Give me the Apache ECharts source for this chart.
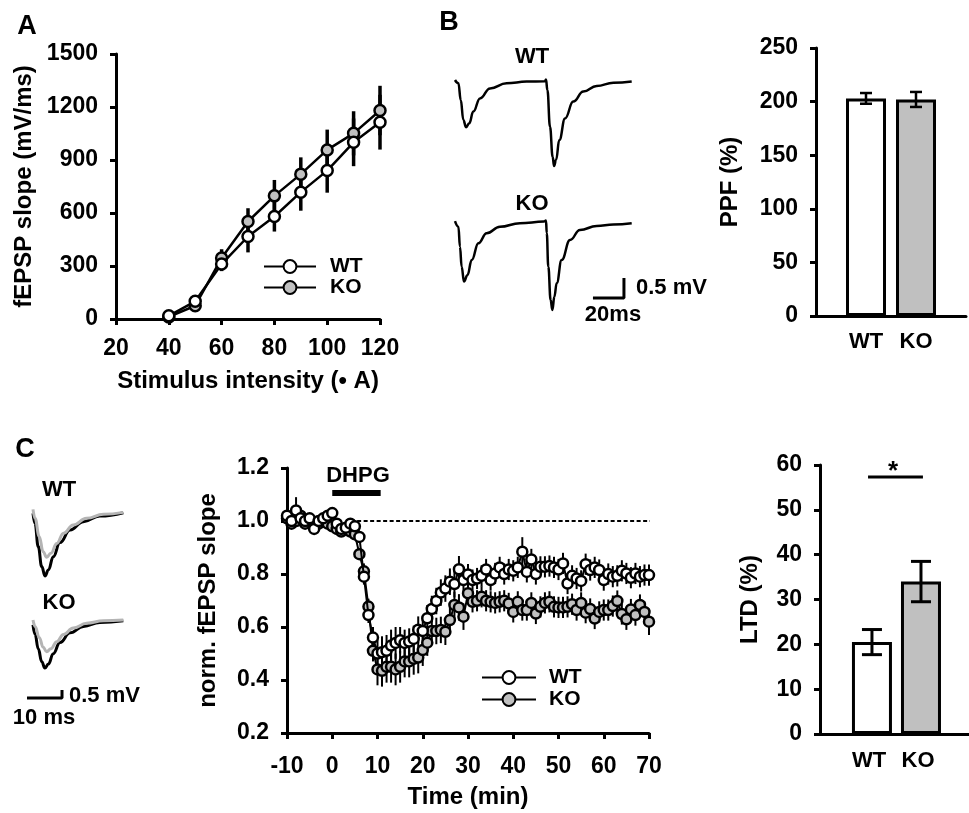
<!DOCTYPE html>
<html>
<head>
<meta charset="utf-8">
<script src="https://cdn.jsdelivr.net/npm/echarts@6/dist/echarts.min.js"></script>
<style>html,body{margin:0;padding:0;background:#fff;}#c{width:969px;height:813px;}</style>
</head>
<body>
<div id="c"></div>
<script>
// ---------- Panel A: input/output ----------
const stimIntensity = [40, 50, 60, 70, 80, 90, 100, 110, 120];
const ioWT    = [18, 100, 311, 467, 580, 718, 840, 1000, 1114];
const ioKO    = [12, 75, 345, 552, 697, 820, 957, 1051, 1180];
const ioWTerr = [5, 15, 40, 90, 85, 105, 125, 135, 155];
const ioKOerr = [5, 20, 50, 75, 90, 95, 115, 125, 140];

// ---------- Panel B: PPF ----------
const groups = ['WT', 'KO'];
const ppfMean = [203, 202];
const ppfErr = [5, 7];
// sample traces [ms, mV] relative to baseline
const ppfTraceWT = [[0,0.05],[2.2,-0.03],[3.7,-0.45],[5.4,-0.95],[7.1,-1.13],[9.2,-1.03],[11.8,-0.74],[16.1,-0.41],[22.6,-0.16],[33.3,-0.03],[46.2,0.01],[58,0.02],[58.7,0.06],[59.6,-0.2],[61.3,-1.12],[63,-1.87],[63.9,-2.1],[65.2,-1.95],[67.3,-1.45],[71,-0.91],[76.3,-0.49],[82.8,-0.24],[91.4,-0.1],[102.2,-0.02],[114,0.01]];
const ppfTraceKO = [[0,0.02],[2.2,-0.12],[3.2,-0.62],[4.3,-1.12],[5.8,-1.49],[8,-1.33],[10.8,-0.95],[15.1,-0.53],[20.4,-0.28],[29,-0.12],[41.9,-0.03],[57.4,0.01],[58.7,0.04],[59.2,-0.28],[60.2,-1.12],[61.7,-1.95],[62.8,-2.2],[64.1,-1.87],[65.6,-1.53],[68.8,-0.95],[74.2,-0.45],[80.6,-0.2],[91.4,-0.1],[102.2,-0.06],[114,-0.03]];
const ppfScaleMs = 20, ppfScaleMv = 0.5;

// ---------- Panel C: DHPG-LTD ----------
const timeMin = [-10,-9,-8,-7,-6,-5,-4,-3,-2,-1,0,1,2,3,4,5,6,7,8,9,10,11,12,13,14,15,16,17,18,19,20,21,22,23,24,25,26,27,28,29,30,31,32,33,34,35,36,37,38,39,40,41,42,43,44,45,46,47,48,49,50,51,52,53,54,55,56,57,58,59,60,61,62,63,64,65,66,67,68,69,70];
const ltdWT = [1.02,1.00,1.04,1.01,1.00,1.01,0.97,1.00,1.01,1.02,1.03,0.99,0.97,0.975,0.99,0.98,0.94,0.79,0.645,0.56,0.50,0.505,0.51,0.53,0.54,0.55,0.54,0.545,0.555,0.59,0.585,0.633,0.668,0.698,0.73,0.745,0.771,0.762,0.818,0.777,0.798,0.777,0.783,0.793,0.817,0.777,0.802,0.825,0.800,0.817,0.812,0.825,0.884,0.808,0.855,0.800,0.827,0.827,0.830,0.825,0.817,0.840,0.764,0.793,0.783,0.774,0.837,0.815,0.825,0.815,0.777,0.800,0.790,0.793,0.812,0.802,0.786,0.802,0.790,0.796,0.796];
const ltdKO = [1.01,0.99,1.00,1.02,0.99,1.00,0.99,0.99,1.00,0.99,0.98,0.97,0.96,0.97,0.96,0.95,0.875,0.81,0.677,0.51,0.44,0.435,0.45,0.45,0.44,0.45,0.47,0.47,0.48,0.485,0.513,0.541,0.585,0.585,0.589,0.582,0.626,0.683,0.674,0.639,0.727,0.695,0.699,0.714,0.699,0.695,0.691,0.695,0.699,0.689,0.657,0.695,0.664,0.664,0.691,0.651,0.676,0.691,0.695,0.676,0.674,0.674,0.676,0.686,0.664,0.691,0.654,0.668,0.632,0.657,0.664,0.664,0.679,0.698,0.649,0.629,0.666,0.645,0.683,0.657,0.620];
const ltdWTerr = [0.03,0.02,0.05,0.03,0.02,0.02,0.02,0.02,0.02,0.02,0.02,0.02,0.02,0.02,0.02,0.02,0.02,0.03,0.03,0.04,0.05,0.06,0.06,0.06,0.06,0.05,0.05,0.05,0.05,0.05,0.05,0.05,0.05,0.05,0.05,0.05,0.05,0.05,0.05,0.05,0.04,0.04,0.04,0.04,0.04,0.04,0.04,0.04,0.04,0.04,0.04,0.04,0.055,0.04,0.04,0.04,0.04,0.04,0.04,0.04,0.04,0.04,0.04,0.04,0.04,0.04,0.04,0.04,0.04,0.04,0.04,0.04,0.04,0.04,0.04,0.04,0.04,0.04,0.04,0.04,0.04];
const ltdKOerr = [0.02,0.02,0.02,0.02,0.02,0.02,0.02,0.02,0.02,0.02,0.02,0.02,0.02,0.02,0.02,0.02,0.02,0.03,0.03,0.04,0.06,0.06,0.06,0.06,0.06,0.06,0.06,0.06,0.06,0.06,0.06,0.05,0.05,0.05,0.05,0.05,0.05,0.05,0.05,0.05,0.04,0.04,0.04,0.04,0.04,0.04,0.04,0.04,0.04,0.04,0.04,0.04,0.04,0.04,0.04,0.04,0.04,0.04,0.04,0.04,0.04,0.04,0.04,0.04,0.04,0.04,0.04,0.04,0.04,0.04,0.04,0.04,0.04,0.04,0.04,0.04,0.04,0.04,0.04,0.04,0.05];
const dhpgWindow = [0, 10.7];
const ltdMean = [20.5, 34];
const ltdErr = [2.8, 4.5];
// sample traces [ms, mV] relative to baseline: pre (black) and post (grey)
const ltdTraceWTpre  = [[0,-0.02],[0.57,-0.65],[1.5,-2.1],[2.5,-3.35],[3.43,-3.94],[4.4,-3.56],[5.8,-2.73],[7.7,-1.85],[10.6,-1.06],[14.4,-0.54],[19.1,-0.19],[25.8,0.02]];
const ltdTraceWTpost = [[0,0.23],[0.57,-0.33],[1.8,-1.48],[2.9,-2.42],[3.9,-2.77],[5.1,-2.52],[6.8,-1.9],[8.7,-1.27],[11.5,-0.75],[15.3,-0.33],[20.1,-0.08],[25.8,0.04]];
const ltdTraceKOpre  = [[0,-0.3],[0.6,-0.9],[1.5,-1.8],[2.5,-2.6],[3.4,-3.0],[4.4,-2.75],[5.8,-2.1],[7.7,-1.4],[10.6,-0.8],[14.4,-0.4],[19.1,-0.15],[25.8,-0.05]];
const ltdTraceKOpost = [[0,0],[0.6,-0.4],[1.8,-1.1],[2.9,-1.7],[3.9,-1.98],[5.1,-1.8],[6.8,-1.35],[8.7,-0.9],[11.5,-0.5],[15.3,-0.2],[20.1,-0.05],[25.8,0]];
const ltdScaleMs = 10, ltdScaleMv = 0.5;

// ---------- layout / style ----------
const FONT = 'Liberation Sans, Arial, sans-serif';
const GREY = '#c0c0c0';
const txtOf = fs => ({fontFamily: FONT, fontWeight: 'bold', fontSize: fs, color: '#000'});
const tick = txtOf(23), nameTxt = txtOf(24), lbl = txtOf(22), legTxt = txtOf(21);

function errItem(capHalf, lw) {
  return function (params, api) {
    const x = api.value(0), y = api.value(1), e = api.value(2);
    const t = api.coord([x, y + e]), b = api.coord([x, y - e]);
    const st = {stroke: '#000', lineWidth: lw};
    const ch = [{type: 'line', shape: {x1: t[0], y1: t[1], x2: b[0], y2: b[1]}, style: st}];
    if (capHalf > 0) {
      ch.push({type: 'line', shape: {x1: t[0] - capHalf, y1: t[1], x2: t[0] + capHalf, y2: t[1]}, style: st});
      ch.push({type: 'line', shape: {x1: b[0] - capHalf, y1: b[1], x2: b[0] + capHalf, y2: b[1]}, style: st});
    }
    return {type: 'group', children: ch};
  };
}

function valAxis(o) {
  return Object.assign({
    type: 'value',
    axisLine: {show: true, onZero: false, lineStyle: {color: '#000', width: 3}},
    axisTick: {show: true, inside: false, length: 6, lineStyle: {color: '#000', width: 3}},
    axisLabel: Object.assign({margin: 18, formatter: v => String(v)}, tick),
    splitLine: {show: false},
    nameTextStyle: nameTxt
  }, o);
}
function hiddenAxis(o) {
  return Object.assign({type: 'value', show: false, splitLine: {show: false}}, o);
}

const zip = (xs, ys) => xs.map((x, i) => [x, ys[i]]);
const zip3 = (xs, ys, es) => xs.map((x, i) => [x, ys[i], es[i]]);
const offsetTrace = (tr, off) => tr.map(p => [p[0], p[1] + off]);

const KO_OFF_B = -3.5;     // vertical stacking offset of KO trace (mV)
const KO_OFF_C = -6.69;
const sbB = [89, -5.4];    // scale bar origin
const sbC = [-1.71, -11.56];

const symWT = {color: '#fff', borderColor: '#000', borderWidth: 2.5};
const symKO = {color: GREY, borderColor: '#000', borderWidth: 2.5};
const traceSmooth = {showSymbol: false, smooth: 0.45, smoothMonotone: 'x', silent: true};

function txtG(x, y, text, fs, align) {
  return {type: 'text', x: x, y: y, style: {text: text, font: 'bold ' + fs + 'px ' + FONT, fill: '#000',
    textAlign: align || 'center', textVerticalAlign: 'middle'}};
}

const option = {
  animation: false,
  backgroundColor: '#fff',
  textStyle: {fontFamily: FONT},
  grid: [
    {left: 116, top: 54, width: 264, height: 265, outerBoundsMode: 'none'},  // 0 A
    {left: 455, top: 42, width: 186, height: 280, outerBoundsMode: 'none'},  // 1 B traces
    {left: 816, top: 48, width: 150, height: 268, outerBoundsMode: 'none'},  // 2 B bars
    {left: 26, top: 497, width: 126, height: 224, outerBoundsMode: 'none'},  // 3 C traces
    {left: 287, top: 468, width: 362, height: 265, outerBoundsMode: 'none'}, // 4 C time
    {left: 820, top: 465, width: 150, height: 269, outerBoundsMode: 'none'}  // 5 C bars
  ],
  xAxis: [
    valAxis({gridIndex: 0, min: 20, max: 120, interval: 20,
      name: 'Stimulus intensity (\u2022 A)', nameLocation: 'middle', nameGap: 50}),
    hiddenAxis({gridIndex: 1, min: 0, max: 120}),
    valAxis({gridIndex: 2, min: 0, max: 3, interval: 1, axisTick: {show: false},
      axisLabel: Object.assign({margin: 15, formatter: v => groups[v - 1] || ''}, lbl)}),
    hiddenAxis({gridIndex: 3, min: -2, max: 34}),
    valAxis({gridIndex: 4, min: -10, max: 70, interval: 10,
      axisLabel: Object.assign({margin: 22, formatter: v => String(v)}, tick),
      name: 'Time (min)', nameLocation: 'middle', nameGap: 52}),
    valAxis({gridIndex: 5, min: -0.06, max: 3, interval: 1, axisTick: {show: false},
      axisLabel: Object.assign({margin: 16, formatter: v => groups[Math.round(v) - 1] || ''}, lbl)})
  ],
  yAxis: [
    valAxis({gridIndex: 0, min: 0, max: 1500, interval: 300,
      name: 'fEPSP slope (mV/ms)', nameLocation: 'middle', nameGap: 80, nameRotate: 90}),
    hiddenAxis({gridIndex: 1, min: -6, max: 1}),
    valAxis({gridIndex: 2, min: 0, max: 250, interval: 50,
      name: 'PPF (%)', nameLocation: 'middle', nameGap: 74, nameRotate: 90}),
    hiddenAxis({gridIndex: 3, min: -13, max: 1}),
    valAxis({gridIndex: 4, min: 0.2, max: 1.2, interval: 0.2,
      axisLabel: Object.assign({margin: 18, formatter: v => v.toFixed(1)}, tick),
      name: 'norm. fEPSP slope', nameLocation: 'middle', nameGap: 67, nameRotate: 90}),
    valAxis({gridIndex: 5, min: 0, max: 60, interval: 10,
      name: 'LTD (%)', nameLocation: 'middle', nameGap: 58, nameRotate: 90})
  ],
  legend: [
    {left: 258, top: 251, orient: 'vertical', data: ['WT', 'KO'], selectedMode: false,
      itemWidth: 52, itemHeight: 16, itemGap: 0,
      textStyle: Object.assign({padding: [0, 0, 0, 9]}, legTxt)},
    {left: 476, top: 662, orient: 'vertical', data: ['WT', 'KO'], selectedMode: false,
      itemWidth: 54, itemHeight: 16, itemGap: 1,
      textStyle: Object.assign({padding: [0, 0, 0, 8]}, legTxt)}
  ],
  series: [
    // ---- A
    {type: 'custom', xAxisIndex: 0, yAxisIndex: 0, renderItem: errItem(0, 3.5), z: 1,
      data: zip3(stimIntensity, ioKO, ioKOerr), encode: {x: 0, y: 1}},
    {type: 'custom', xAxisIndex: 0, yAxisIndex: 0, renderItem: errItem(0, 3.5), z: 1,
      data: zip3(stimIntensity, ioWT, ioWTerr), encode: {x: 0, y: 1}},
    {name: 'KO', type: 'line', xAxisIndex: 0, yAxisIndex: 0, data: zip(stimIntensity, ioKO), z: 3,
      symbol: 'circle', symbolSize: 11, lineStyle: {color: '#000', width: 2.5}, itemStyle: symKO},
    {name: 'WT', type: 'line', xAxisIndex: 0, yAxisIndex: 0, data: zip(stimIntensity, ioWT), z: 4,
      symbol: 'circle', symbolSize: 11, lineStyle: {color: '#000', width: 2.5}, itemStyle: symWT},
    // ---- B traces
    Object.assign({type: 'line', xAxisIndex: 1, yAxisIndex: 1, data: ppfTraceWT,
      lineStyle: {color: '#000', width: 2.5}}, traceSmooth),
    Object.assign({type: 'line', xAxisIndex: 1, yAxisIndex: 1, data: offsetTrace(ppfTraceKO, KO_OFF_B),
      lineStyle: {color: '#000', width: 2.5}}, traceSmooth),
    {type: 'line', xAxisIndex: 1, yAxisIndex: 1, showSymbol: false, clip: false,
      data: [[sbB[0], sbB[1]], [sbB[0] + ppfScaleMs, sbB[1]], [sbB[0] + ppfScaleMs, sbB[1] + ppfScaleMv]],
      lineStyle: {color: '#000', width: 3}, silent: true},
    // ---- B bars
    {type: 'bar', xAxisIndex: 2, yAxisIndex: 2, barWidth: 40, z: 2,
      data: ppfMean.map((v, i) => ({value: [i + 1, v], itemStyle: {color: i ? GREY : '#fff', borderColor: '#000', borderWidth: 3}}))},
    {type: 'custom', xAxisIndex: 2, yAxisIndex: 2, renderItem: errItem(6, 2.5), z: 3,
      data: ppfMean.map((v, i) => [i + 1, v, ppfErr[i]]), encode: {x: 0, y: 1}},
    // ---- C traces
    Object.assign({type: 'line', xAxisIndex: 3, yAxisIndex: 3, data: ltdTraceWTpre,
      lineStyle: {color: '#000', width: 3}}, traceSmooth),
    Object.assign({type: 'line', xAxisIndex: 3, yAxisIndex: 3, data: ltdTraceWTpost,
      lineStyle: {color: '#b4b4b4', width: 3}}, traceSmooth),
    Object.assign({type: 'line', xAxisIndex: 3, yAxisIndex: 3, data: offsetTrace(ltdTraceKOpre, KO_OFF_C),
      lineStyle: {color: '#000', width: 3}}, traceSmooth),
    Object.assign({type: 'line', xAxisIndex: 3, yAxisIndex: 3, data: offsetTrace(ltdTraceKOpost, KO_OFF_C),
      lineStyle: {color: '#b4b4b4', width: 3}}, traceSmooth),
    {type: 'line', xAxisIndex: 3, yAxisIndex: 3, showSymbol: false, clip: false,
      data: [[sbC[0], sbC[1]], [sbC[0] + ltdScaleMs, sbC[1]], [sbC[0] + ltdScaleMs, sbC[1] + ltdScaleMv]],
      lineStyle: {color: '#000', width: 3}, silent: true},
    // ---- C time course
    {type: 'line', xAxisIndex: 4, yAxisIndex: 4, showSymbol: false, clip: false, z: 1,
      data: [[5.5, 1], [72, 1]], lineStyle: {color: '#000', width: 2, type: [4, 2.5]}, silent: true},
    {type: 'line', xAxisIndex: 4, yAxisIndex: 4, showSymbol: false, z: 2,
      data: [[dhpgWindow[0], 1.106], [dhpgWindow[1], 1.106]], lineStyle: {color: '#000', width: 6, cap: 'butt'}, silent: true},
    {type: 'custom', xAxisIndex: 4, yAxisIndex: 4, renderItem: errItem(0, 2), z: 2,
      data: zip3(timeMin, ltdKO, ltdKOerr), encode: {x: 0, y: 1}},
    {type: 'custom', xAxisIndex: 4, yAxisIndex: 4, renderItem: errItem(0, 2), z: 2,
      data: zip3(timeMin, ltdWT, ltdWTerr), encode: {x: 0, y: 1}},
    {name: 'KO', type: 'line', xAxisIndex: 4, yAxisIndex: 4, data: zip(timeMin, ltdKO), z: 3,
      symbol: 'circle', symbolSize: 10, lineStyle: {color: '#000', width: 2}, itemStyle: symKO},
    {name: 'WT', type: 'line', xAxisIndex: 4, yAxisIndex: 4, data: zip(timeMin, ltdWT), z: 4,
      symbol: 'circle', symbolSize: 10, lineStyle: {color: '#000', width: 2}, itemStyle: symWT},
    // ---- C bars
    {type: 'bar', xAxisIndex: 5, yAxisIndex: 5, barWidth: 40, z: 2,
      data: ltdMean.map((v, i) => ({value: [i + 1, v], itemStyle: {color: i ? GREY : '#fff', borderColor: '#000', borderWidth: 3}}))},
    {type: 'custom', xAxisIndex: 5, yAxisIndex: 5, renderItem: errItem(10, 3), z: 3,
      data: ltdMean.map((v, i) => [i + 1, v, ltdErr[i]]), encode: {x: 0, y: 1}},
    {type: 'line', xAxisIndex: 5, yAxisIndex: 5, showSymbol: false, clip: false,
      data: [[0.92, 57.3], [2.04, 57.3]], lineStyle: {color: '#000', width: 3}, silent: true}
  ],
  graphic: [
    txtG(27, 27, 'A', 27), txtG(449, 23, 'B', 27), txtG(25, 450, 'C', 27),
    txtG(532, 57, 'WT', 22), txtG(532, 204, 'KO', 22),
    txtG(636, 288, '0.5 mV', 22, 'left'), txtG(613, 315, '20ms', 22),
    txtG(59, 490, 'WT', 22), txtG(59, 603, 'KO', 22),
    txtG(69, 696, '0.5 mV', 22, 'left'), txtG(44, 718, '10 ms', 22),
    txtG(358, 476, 'DHPG', 22), txtG(893, 472, '*', 26)
  ]
};

const chart = echarts.init(document.getElementById('c'), null, {renderer: 'canvas'});
chart.setOption(option);
</script>
</body>
</html>
